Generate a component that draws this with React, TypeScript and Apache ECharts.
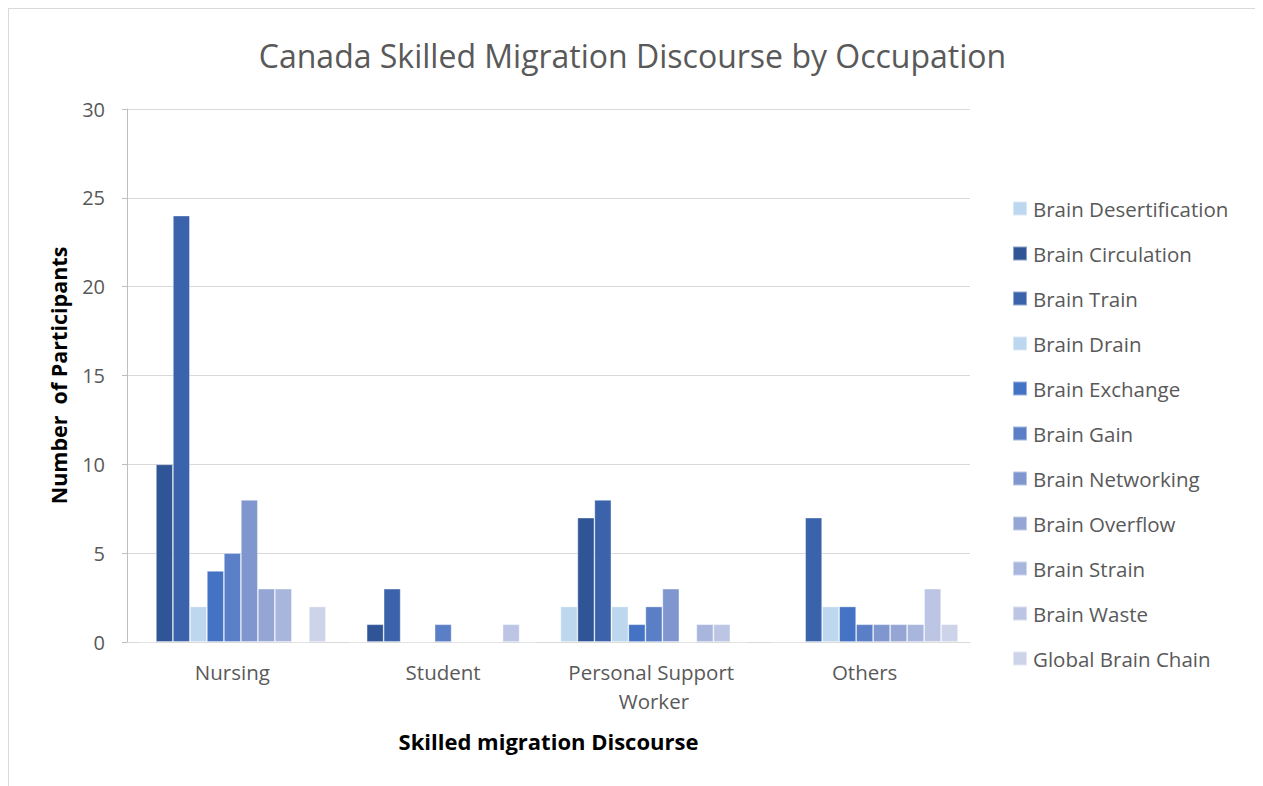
import React, { useEffect, useRef } from "react";
import * as echarts from "echarts";

const categories = ["Nursing", "Student", "Personal Support Worker", "Others"];
const seriesNames = [
  "Brain Desertification",
  "Brain Circulation",
  "Brain Train",
  "Brain Drain",
  "Brain Exchange",
  "Brain Gain",
  "Brain Networking",
  "Brain Overflow",
  "Brain Strain",
  "Brain Waste",
  "Global Brain Chain",
];
const brainDesertification = [0, 0, 2, 0];
const brainCirculation = [10, 1, 7, 0];
const brainTrain = [24, 3, 8, 7];
const brainDrain = [2, 0, 2, 2];
const brainExchange = [4, 0, 1, 2];
const brainGain = [5, 1, 2, 1];
const brainNetworking = [8, 0, 3, 1];
const brainOverflow = [3, 0, 0, 1];
const brainStrain = [3, 0, 1, 1];
const brainWaste = [0, 1, 1, 3];
const globalBrainChain = [2, 0, 0, 1];
const seriesValues = [
  brainDesertification,
  brainCirculation,
  brainTrain,
  brainDrain,
  brainExchange,
  brainGain,
  brainNetworking,
  brainOverflow,
  brainStrain,
  brainWaste,
  globalBrainChain,
];
const colors = [
  "#BDD7EE",
  "#2F5597",
  "#3A63AB",
  "#BDD7EE",
  "#4472C4",
  "#5B7FC7",
  "#7F96CE",
  "#95A6D4",
  "#A8B5DC",
  "#BCC5E3",
  "#CDD3E9",
];

const FONT = "'Open Sans', 'Noto Sans', sans-serif";
const TXT = "#595959";

export default function App() {
  const ref = useRef<HTMLDivElement>(null);
  useEffect(() => {
    if (!ref.current) return;
    const chart = echarts.init(ref.current, undefined, { renderer: "svg" });
    chart.setOption({
      animation: false,
      textStyle: { fontFamily: FONT, color: TXT },
      title: {
        text: "Canada Skilled Migration Discourse by Occupation",
        left: "center",
        top: 25,
        textStyle: { fontFamily: FONT, fontSize: 32, fontWeight: "normal", color: TXT },
      },
      legend: {
        orient: "vertical",
        left: 998,
        top: 184,
        itemWidth: 14,
        itemHeight: 14,
        itemGap: 24,
        icon: "rect",
        textStyle: { fontFamily: FONT, fontSize: 20.5, color: TXT, padding: [0, 0, 0, 1] },
        data: seriesNames,
      },
      grid: { left: 118, top: 100, width: 843, height: 533, containLabel: false },
      xAxis: {
        type: "category",
        data: categories,
        name: "Skilled migration Discourse",
        nameLocation: "middle",
        nameGap: 88,
        nameTextStyle: { fontFamily: FONT, fontSize: 22, fontWeight: "bold", color: "#000" },
        axisLine: { lineStyle: { color: "#D9D9D9", width: 1 } },
        axisTick: { show: false },
        axisLabel: {
          interval: 0,
          fontFamily: FONT,
          fontSize: 20.5,
          color: TXT,
          margin: 15,
          width: 200,
          overflow: "break",
          lineHeight: 29,
        },
      },
      yAxis: {
        type: "value",
        min: 0,
        max: 30,
        interval: 5,
        name: "Number  of Participants",
        nameLocation: "middle",
        nameGap: 58,
        nameTextStyle: { fontFamily: FONT, fontSize: 21.5, fontWeight: "bold", color: "#000" },
        axisLine: { show: true, lineStyle: { color: "#BFBFBF" } },
        axisTick: { show: true, length: 5, lineStyle: { color: "#BFBFBF" } },
        splitLine: { lineStyle: { color: "#D9D9D9", width: 1 } },
        axisLabel: { fontFamily: FONT, fontSize: 20, color: TXT, margin: 22 },
      },
      series: seriesNames.map((name, i) => ({
        name,
        type: "bar",
        data: seriesValues[i],
        barGap: "0%",
        barCategoryGap: "11.3%",
        itemStyle: { color: colors[i], borderColor: "rgba(255,255,255,0.45)", borderWidth: 0.8 },
      })),
    });
    return () => chart.dispose();
  }, []);
  return (
    <div
      style={{
        width: 1247,
        height: 790,
        border: "1px solid #D9D9D9",
        background: "#fff",
      }}
    >
      <div ref={ref} style={{ width: 1247, height: 790 }} />
    </div>
  );
}
